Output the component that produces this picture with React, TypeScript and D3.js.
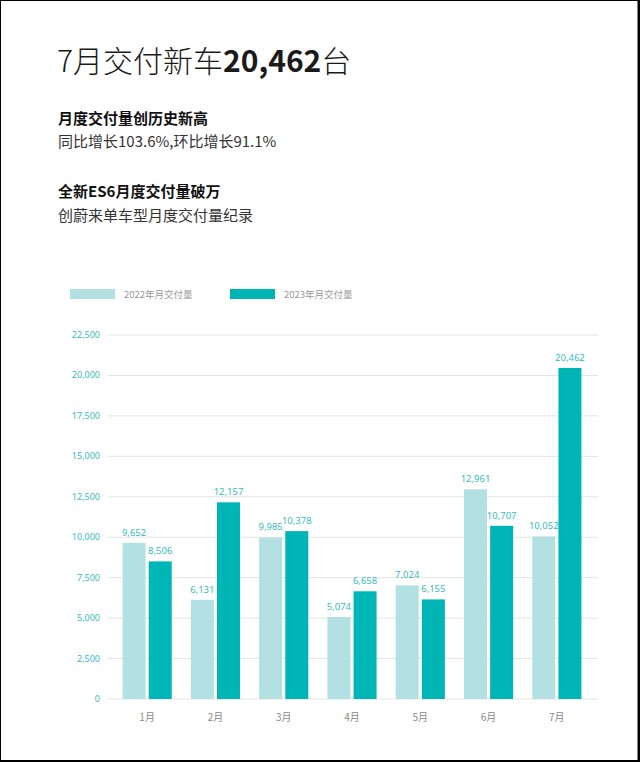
import React from "react";
import * as d3 from "d3";

const months = ["1月", "2月", "3月", "4月", "5月", "6月", "7月"];
const deliveries2022 = [9652, 6131, 9985, 5074, 7024, 12961, 10052];
const deliveries2023 = [8506, 12157, 10378, 6658, 6155, 10707, 20462];
const seriesNames = ["2022年月交付量", "2023年月交付量"];
const yTicks = [0, 2500, 5000, 7500, 10000, 12500, 15000, 17500, 20000, 22500];

const W = 640;
const H = 762;
const LIGHT = "#b3e1e3";
const DARK = "#00b5b5";
const LABEL = "#35bcbf";
const CJK = "'Noto Sans CJK SC', 'Noto Sans', sans-serif";
const NUM = "'Noto Sans', 'DejaVu Sans', sans-serif";

const App: React.FC = () => {
  const y = d3.scaleLinear().domain([0, 22500]).range([699, 335]);
  const x = d3.scaleBand<string>().domain(months).range([113, 591]).paddingInner(0.28).paddingOuter(0.14);
  const inner = d3
    .scaleBand<number>()
    .domain([0, 1])
    .range([0, x.bandwidth()])
    .paddingInner(0.12);
  const fmt = d3.format(",");
  const series = [deliveries2022, deliveries2023];
  const colors = [LIGHT, DARK];

  return (
    <div style={{ position: "absolute", left: 0, top: 0 }}>
      <svg width={W} height={H} style={{ display: "block", background: "#fff" }}>
        {/* title block */}
        <text x={57} y={72} fontFamily={CJK} fontSize={30} fill="#1a1a1a">
          <tspan fontWeight={300}>7月交付新车</tspan>
          <tspan fontWeight={700}>20,462</tspan>
          <tspan fontWeight={300}>台</tspan>
        </text>
        <text x={58} y={124} fontFamily={CJK} fontSize={15} fontWeight={700} fill="#111">
          月度交付量创历史新高
        </text>
        <text x={58} y={147} fontFamily={CJK} fontSize={15} fill="#333">
          同比增长103.6%,环比增长91.1%
        </text>
        <text x={58} y={197} fontFamily={CJK} fontSize={15} fontWeight={700} fill="#111">
          全新ES6月度交付量破万
        </text>
        <text x={58} y={221} fontFamily={CJK} fontSize={15} fill="#333">
          创蔚来单车型月度交付量纪录
        </text>

        {/* legend */}
        {seriesNames.map((name, i) => (
          <g key={name} transform={`translate(${70 + i * 160},289)`}>
            <rect width={45} height={10} fill={colors[i]} />
            <text x={54} y={9} fontFamily={CJK} fontSize={9.5} fill="#999">
              {name}
            </text>
          </g>
        ))}

        {/* grid + y axis */}
        {yTicks.map((t) => (
          <g key={t}>
            <line x1={108} x2={598} y1={y(t)} y2={y(t)} stroke="#e4e4e4" strokeWidth={1} />
            <text x={100} y={y(t) + 3} textAnchor="end" fontFamily={NUM} fontSize={9} fill={LABEL}>
              {fmt(t)}
            </text>
          </g>
        ))}

        {/* bars */}
        {months.map((m, mi) => (
          <g key={m} transform={`translate(${x(m)},0)`}>
            {series.map((vals, si) => (
              <g key={si}>
                <rect
                  x={inner(si)}
                  y={y(vals[mi])}
                  width={inner.bandwidth()}
                  height={y(0) - y(vals[mi])}
                  fill={colors[si]}
                />
                <text
                  x={(inner(si) ?? 0) + inner.bandwidth() / 2}
                  y={y(vals[mi]) - 7}
                  textAnchor="middle"
                  fontFamily={NUM}
                  fontSize={9.5}
                  fill={LABEL}
                >
                  {fmt(vals[mi])}
                </text>
              </g>
            ))}
            <text
              x={x.bandwidth() / 2}
              y={721}
              textAnchor="middle"
              fontFamily={CJK}
              fontSize={10}
              fill="#888"
            >
              {m}
            </text>
          </g>
        ))}

        {/* frame */}
        <rect x={0} y={0} width={W} height={1} fill="#000" />
        <rect x={0} y={0} width={1} height={H} fill="#000" />
        <rect x={W - 2.5} y={0} width={2.5} height={H} fill="#000" />
        <rect x={0} y={H - 2} width={W} height={2} fill="#000" />
      </svg>
    </div>
  );
};

export default App;
